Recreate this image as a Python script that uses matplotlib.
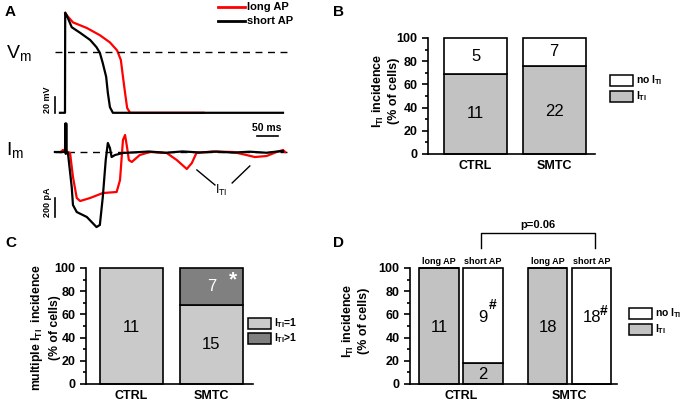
import matplotlib
matplotlib.use('Agg')
import matplotlib.pyplot as plt
from matplotlib.patches import Rectangle
from matplotlib.ticker import MultipleLocator

plt.rcParams['font.family'] = ['Liberation Sans', 'DejaVu Sans']
plt.rcParams['mathtext.fontset'] = 'custom'
plt.rcParams['mathtext.rm'] = 'Liberation Sans'
plt.rcParams['mathtext.it'] = 'Liberation Sans'
plt.rcParams['mathtext.bf'] = 'Liberation Sans:bold'

W, H = 683, 408

# ---- panel A traces (ms, mV / pA) ----
vm_short_t = [-12, 0, 0.5, 4, 16, 36, 60, 75, 83, 90, 98, 102, 107, 114, 519]
vm_short_v = [-76, -76, 49, 46, 31, 24, 15, 6, -1, -14, -31, -51, -69, -76, -76]
vm_long_t = [0.5, 4, 19, 52, 83, 107, 124, 133, 138, 143, 148, 155, 330]
vm_long_v = [49, 46, 37, 30, 21, 12, 2, -10, -31, -51, -70, -76, -76]

im_short_t = [-24, -5, 0, 1, 2, 3, 4, 7, 16, 19, 28, 52, 75, 83, 90, 97, 102, 107, 111, 119,
              138, 160, 200, 240, 280, 320, 360, 400, 440, 480, 505, 519]
im_short_i = [0, 0, 0, 300, -20, 300, 0, -10, -368, -558, -632, -684, -790, -768, -474, -84,
              95, 42, -53, -32, -10, -5, 5, -8, 6, -5, 4, -6, 3, -8, 5, 10]
im_long_t = [-10, -5, 7, 12, 19, 28, 36, 60, 90, 123, 131, 135, 138, 143, 148, 152, 159, 178,
             202, 242, 266, 290, 302, 313, 352, 400, 432, 452, 480, 504, 519, 524]
im_long_i = [0, 21, 0, -10, -263, -484, -516, -484, -432, -421, -295, -53, 126, 179, 42, -84,
             -105, -32, 0, -10, -84, -179, -116, -10, 5, 0, -32, -53, -42, 0, 21, 0]

# ---- bar data ----
groups = ['CTRL', 'SMTC']
b_iti = [11, 22]
b_no_iti = [5, 7]
c_single = [11, 15]
c_multi = [0, 7]
d_labels = ['long AP', 'short AP', 'long AP', 'short AP']
d_iti = [11, 2, 18, 0]
d_no_iti = [0, 9, 0, 18]

gray = '#c2c2c2'
light = '#cacaca'
dark = '#808080'

fig = plt.figure(figsize=(W / 100, H / 100), dpi=100)


def px_axes(x0, y0, x1, y1):
    return fig.add_axes([x0 / W, 1 - y1 / H, (x1 - x0) / W, (y1 - y0) / H])


def ftext(x, y, s, **kw):
    fig.text(x / W, 1 - y / H, s, **kw)


def ylabel2(x1, x2, y, line1, line2, size=9):
    # two-line rotated y label, each line as its own text
    ftext(x1, y, line1, rotation=90, ha='center', va='center', fontsize=size, fontweight='bold')
    ftext(x2, y, line2, rotation=90, ha='center', va='center', fontsize=size, fontweight='bold')


def legend_box(x, y, color, label):
    fig.add_artist(Rectangle((x / W, 1 - (y + 11) / H), 23 / W, 11 / H, facecolor=color,
                             edgecolor='black', lw=1.1, transform=fig.transFigure))
    ftext(x + 26, y + 5.5, label, fontsize=7.5, fontweight='bold', va='center')


def style_bar_axes(ax):
    for s in ['top', 'right']:
        ax.spines[s].set_visible(False)
    for s in ['left', 'bottom']:
        ax.spines[s].set_linewidth(1.2)
    ax.set_ylim(0, 100)
    ax.yaxis.set_major_locator(MultipleLocator(20))
    ax.yaxis.set_minor_locator(MultipleLocator(10))
    ax.tick_params(axis='y', which='major', length=4, width=1.2, labelsize=9)
    ax.tick_params(axis='y', which='minor', length=2.5, width=1.2)
    ax.tick_params(axis='x', length=0, labelsize=9, pad=4)
    for lab in ax.get_yticklabels() + ax.get_xticklabels():
        lab.set_fontweight('bold')


# ---- A: Vm ----
axv = px_axes(40, 3, 295, 118)
axv.set_xlim(-59.5, 547.6)
axv.set_ylim(-82.5, 61.25)
axv.axis('off')
axv.plot(vm_long_t, vm_long_v, color='red', lw=1.6)
axv.plot(vm_short_t, vm_short_v, color='black', lw=1.6)
axv.plot([-24, 528], [0, 0], color='black', lw=1, dashes=(5, 4))
axv.plot([-24, -24], [-76, -56], color='black', lw=1.2)
axv.text(-41, -76, '20 mV', rotation=90, ha='center', va='bottom', fontsize=6.5, fontweight='bold')

# ---- A: Im ----
axi = px_axes(40, 118, 295, 235)
axi.set_xlim(-59.5, 547.6)
axi.set_ylim(-873.7, 357.9)
axi.axis('off')
axi.plot([-24, 528], [0, 0], color='black', lw=1, dashes=(5, 4))
axi.plot(im_long_t, im_long_i, color='red', lw=1.6)
axi.plot(im_short_t, im_short_i, color='black', lw=1.6)
axi.plot([-24, -24], [-484, -684], color='black', lw=1.2)
axi.text(-41, -684, '200 pA', rotation=90, ha='center', va='bottom', fontsize=6.5, fontweight='bold')
axi.plot([456, 506], [170, 170], color='black', lw=1.2)
axi.text(481, 205, '50 ms', ha='center', va='bottom', fontsize=7.5, fontweight='bold')
axi.plot([314, 357], [-189, -347], color='black', lw=1)
axi.plot([398, 440], [-326, -147], color='black', lw=1)
axi.text(373, -400, r'$\mathregular{I_{TI}}$', ha='center', va='center', fontsize=9)

ftext(6, 53, r'$\mathregular{V_m}$', fontsize=14, va='center')
ftext(6, 150, r'$\mathregular{I_m}$', fontsize=14, va='center')

# legend of A
fig.add_artist(plt.Line2D([218 / W, 245 / W], [1 - 7 / H, 1 - 7 / H], color='red', lw=2))
fig.add_artist(plt.Line2D([218 / W, 245 / W], [1 - 21 / H, 1 - 21 / H], color='black', lw=2))
ftext(247, 7, 'long AP', fontsize=8, fontweight='bold', va='center')
ftext(247, 21, 'short AP', fontsize=8, fontweight='bold', va='center')

# ---- B ----
axb = px_axes(428, 38, 595, 154)
axb.bar([1, 2], [100 * a / (a + b) for a, b in zip(b_iti, b_no_iti)], width=0.8,
        color=gray, edgecolor='black', lw=1.2, clip_on=False)
axb.bar([1, 2], [100 * b / (a + b) for a, b in zip(b_iti, b_no_iti)], width=0.8,
        bottom=[100 * a / (a + b) for a, b in zip(b_iti, b_no_iti)],
        color='white', edgecolor='black', lw=1.2, clip_on=False)
axb.set_xlim(0.395, 2.52)
axb.set_xticks([1, 2])
axb.set_xticklabels(groups)
style_bar_axes(axb)
for x, n, y in zip([1, 2], b_iti, [35, 37]):
    axb.text(x, y, str(n), ha='center', va='center', fontsize=12)
for x, n, y in zip([1, 2], b_no_iti, [84, 88]):
    axb.text(x, y, str(n), ha='center', va='center', fontsize=12)
ylabel2(378, 394, 91, r'$\mathbf{I_{TI}}$ incidence', '(% of cells)')
legend_box(610, 75, 'white', r'no $\mathbf{I_{TI}}$')
legend_box(610, 91, gray, r'$\mathbf{I_{TI}}$')

# ---- C ----
axc = px_axes(86, 268, 253, 384)
c_pct1 = [100 * a / (a + b) for a, b in zip(c_single, c_multi)]
c_pct2 = [100 * b / (a + b) for a, b in zip(c_single, c_multi)]
axc.bar([1, 2], c_pct1, width=0.79, color=light, edgecolor='black', lw=1.2, clip_on=False)
axc.bar([2], c_pct2[1:], width=0.79, bottom=c_pct1[1:], color=dark, edgecolor='black', lw=1.2,
        clip_on=False)
axc.set_xlim(0.43, 2.52)
axc.set_xticks([1, 2])
axc.set_xticklabels(groups)
style_bar_axes(axc)
axc.text(1, 49, str(c_single[0]), ha='center', va='center', fontsize=12)
axc.text(2, 34, str(c_single[1]), ha='center', va='center', fontsize=12)
axc.text(2, 84, str(c_multi[1]), ha='center', va='center', fontsize=12, color='white')
axc.text(2.27, 90, '*', ha='center', va='center', fontsize=15, color='white', fontweight='bold')
ylabel2(37, 55, 328, r'multiple $\mathbf{I_{TI}}$  incidence', '(% of cells)', size=8.8)
legend_box(248, 318, light, r'$\mathbf{I_{TI}}$=1')
legend_box(248, 333, dark, r'$\mathbf{I_{TI}}$>1')
ftext(5, 243, 'C', fontsize=11, fontweight='bold', va='center')

# ---- D ----
axd = px_axes(410, 268, 617, 384)
dx = [1, 2, 3.47, 4.47]
d_tot = [a + b for a, b in zip(d_iti, d_no_iti)]
d_p1 = [100 * a / t for a, t in zip(d_iti, d_tot)]
d_p2 = [100 * b / t for b, t in zip(d_no_iti, d_tot)]
axd.bar(dx, d_p1, width=0.9, color=gray, edgecolor='black', lw=1.2, clip_on=False)
axd.bar(dx, d_p2, width=0.9, bottom=d_p1, color='white', edgecolor='black', lw=1.2, clip_on=False)
axd.set_xlim(0.34, 5.05)
axd.set_xticks([1.5, 3.97])
axd.set_xticklabels(groups)
style_bar_axes(axd)
for x, lab in zip(dx, d_labels):
    axd.text(x, 101.5, lab, ha='center', va='bottom', fontsize=6.5, fontweight='bold')
axd.text(dx[0], 49, str(d_iti[0]), ha='center', va='center', fontsize=12)
axd.text(dx[1], 8, str(d_iti[1]), ha='center', va='center', fontsize=12)
axd.text(dx[1], 57, str(d_no_iti[1]), ha='center', va='center', fontsize=12)
axd.text(dx[1] + 0.22, 68, '#', ha='center', va='center', fontsize=10, fontweight='bold')
axd.text(dx[2], 49, str(d_iti[2]), ha='center', va='center', fontsize=12)
axd.text(dx[3], 57, str(d_no_iti[3]), ha='center', va='center', fontsize=12)
axd.text(dx[3] + 0.28, 63, '#', ha='center', va='center', fontsize=10, fontweight='bold')
axd.plot([1.95, 1.95, 4.55, 4.55], [117, 130, 130, 117], color='black', lw=1, clip_on=False)
axd.text(3.25, 133, 'p=0.06', ha='center', va='bottom', fontsize=8, fontweight='bold')
ylabel2(348, 364, 321, r'$\mathbf{I_{TI}}$ incidence', '(% of cells)')
legend_box(629, 308, 'white', r'no $\mathbf{I_{TI}}$')
legend_box(629, 324, gray, r'$\mathbf{I_{TI}}$')

ftext(5, 12, 'A', fontsize=11, fontweight='bold', va='center')
ftext(333, 12, 'B', fontsize=11, fontweight='bold', va='center')
ftext(333, 243, 'D', fontsize=11, fontweight='bold', va='center')

fig.savefig('out.png', dpi=100)
